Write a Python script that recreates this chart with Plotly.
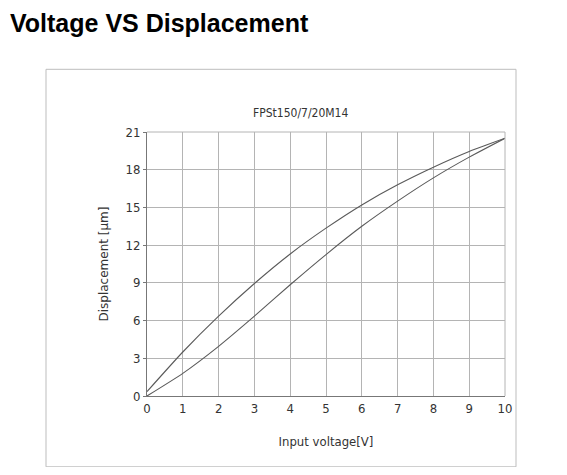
import plotly.graph_objects as go

# Readings
voltage = [0, 1, 2, 3, 4, 5, 6, 7, 8, 9, 10]
disp_up = [0.0, 1.8, 3.95, 6.35, 8.85, 11.25, 13.5, 15.5, 17.35, 19.0, 20.5]     # rising branch
disp_down = [0.35, 3.5, 6.35, 8.95, 11.3, 13.35, 15.2, 16.8, 18.2, 19.45, 20.5]  # falling branch

x_ticks = list(range(0, 11))
y_ticks = [0, 3, 6, 9, 12, 15, 18, 21]

narrow = "DejaVu Sans Condensed, Liberation Sans Narrow, Roboto, sans-serif"
line_col = "#5a5a5a"

fig = go.Figure()
for ys in (disp_up, disp_down):
    fig.add_trace(go.Scatter(
        x=voltage, y=ys, mode="lines",
        line=dict(color=line_col, width=1.1, shape="spline", smoothing=0.6),
        showlegend=False, hoverinfo="skip"
    ))

# page puts the figure 8px in from the corner, so positions are shifted by 8
OFF = 8
W, H = 567 - 2 * OFF, 475 - 2 * OFF
L, R, T, B = 147 - OFF, 505 - OFF, 131.7 - OFF, 395.7 - OFF
def px(x):
    return (x - OFF - L) / (R - L)
def py(y):
    return (B - (y - OFF)) / (B - T)

fig.update_layout(
    width=W, height=H,
    margin=dict(l=L, r=W - R, t=T, b=H - B, autoexpand=False),
    paper_bgcolor="white", plot_bgcolor="white",
    title=dict(text="<b>Voltage VS Displacement</b>", x=(10 - OFF) / W, xanchor="left",
               y=1 - (23 - OFF) / H, yanchor="middle",
               font=dict(family="Liberation Sans, Arial, sans-serif", size=25, color="#000")),
    xaxis=dict(range=[0, 10], tickvals=x_ticks, showgrid=True, gridcolor="#b4b4b4", gridwidth=1,
               zeroline=False, showline=True, linecolor="#777", linewidth=1,
               ticks="", tickfont=dict(family=narrow, size=13, color="#333"),
               title=dict(text="Input voltage[V]", font=dict(family=narrow, size=13, color="#333"),
                          standoff=22)),
    yaxis=dict(range=[0, 21], tickvals=y_ticks, showgrid=True, gridcolor="#b4b4b4", gridwidth=1,
               zeroline=False, showline=True, linecolor="#777", linewidth=1,
               ticks="outside", ticklen=3, tickcolor="#777",
               tickfont=dict(family=narrow, size=13, color="#333"),
               title=dict(text="Displacement [μm]", font=dict(family="DejaVu Sans, sans-serif", size=12, color="#333"),
                          standoff=14)),
    shapes=[
        # thin frame round the chart
        dict(type="rect", xref="paper", yref="paper",
             x0=px(46), x1=px(516), y0=py(466.5), y1=py(69),
             line=dict(color="#bdbdbd", width=1), fillcolor="rgba(0,0,0,0)"),
        # top and right borders of the grid
        dict(type="line", xref="paper", yref="paper", x0=0, x1=1, y0=1, y1=1,
             line=dict(color="#b4b4b4", width=1)),
        dict(type="line", xref="paper", yref="paper", x0=1, x1=1, y0=0, y1=1,
             line=dict(color="#b4b4b4", width=1)),
    ],
    annotations=[
        dict(text="FPSt150/7/20M14", xref="paper", yref="paper", x=px(300), y=py(113),
             showarrow=False, xanchor="center", yanchor="middle",
             font=dict(family=narrow, size=12, color="#333")),
    ],
)

fig.write_html("out.html")
